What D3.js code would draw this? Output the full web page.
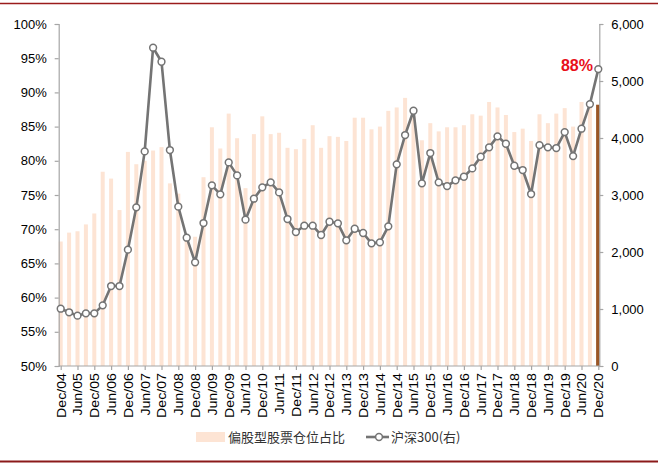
<!DOCTYPE html>
<html>
<head>
<meta charset="utf-8">
<script src="https://cdn.jsdelivr.net/npm/d3@7/dist/d3.min.js"></script>
<style>
  html, body { margin: 0; padding: 0; background: #fff; }
  svg { display: block; font-family: "Liberation Sans", Arial, sans-serif; }
</style>
</head>
<body>
<svg id="chart" width="658" height="464"></svg>
<script>
// ---------------- data ----------------
const quarters = [
  "Dec/04",
  "Mar/05","Jun/05","Sep/05","Dec/05",
  "Mar/06","Jun/06","Sep/06","Dec/06",
  "Mar/07","Jun/07","Sep/07","Dec/07",
  "Mar/08","Jun/08","Sep/08","Dec/08",
  "Mar/09","Jun/09","Sep/09","Dec/09",
  "Mar/10","Jun/10","Sep/10","Dec/10",
  "Mar/11","Jun/11","Sep/11","Dec/11",
  "Mar/12","Jun/12","Sep/12","Dec/12",
  "Mar/13","Jun/13","Sep/13","Dec/13",
  "Mar/14","Jun/14","Sep/14","Dec/14",
  "Mar/15","Jun/15","Sep/15","Dec/15",
  "Mar/16","Jun/16","Sep/16","Dec/16",
  "Mar/17","Jun/17","Sep/17","Dec/17",
  "Mar/18","Jun/18","Sep/18","Dec/18",
  "Mar/19","Jun/19","Sep/19","Dec/19",
  "Mar/20","Jun/20","Sep/20","Dec/20"
];
// 偏股型股票仓位占比 (%)
const equityPosition = [
  68.2,
  69.5, 69.7, 70.7, 72.3,
  78.4, 77.4, 72.8, 81.3,
  79.5, 80.0, 81.5, 82.0,
  76.7, 75.2, 69.0, 68.9,
  77.6, 84.9, 81.8, 86.9,
  83.3, 76.0, 83.9, 86.5,
  83.9, 84.1, 81.9, 81.7,
  83.2, 85.2, 81.9, 83.6,
  83.5, 82.9, 86.3, 86.3,
  84.6, 85.0, 87.3, 87.8,
  89.2, 86.5, 83.0, 85.5,
  84.3, 84.9, 84.9, 85.2,
  86.8, 86.6, 88.6, 87.8,
  86.7, 84.2, 84.7, 82.9,
  86.8, 85.5, 86.9, 87.7,
  85.0, 88.6, 88.5, 88.2
];
// 沪深300 (右)
const csi300 = [
  1005,
  942, 883, 924, 924,
  1064, 1403, 1403, 2041,
  2783, 3765, 5584, 5338,
  3789, 2795, 2251, 1818,
  2508, 3169, 3011, 3572,
  3344, 2567, 2935, 3134,
  3222, 3046, 2578, 2350,
  2461, 2461, 2298, 2531,
  2503, 2205, 2408, 2333,
  2152, 2169, 2450, 3538,
  4052, 4478, 3205, 3736,
  3222, 3157, 3257, 3320,
  3467, 3671, 3836, 4029,
  3899, 3513, 3438, 3017,
  3876, 3836, 3824, 4104,
  3683, 4163, 4595, 5209
];
const tickLabels = [
  "Dec/04","Jun/05","Dec/05","Jun/06","Dec/06","Jun/07","Dec/07","Jun/08","Dec/08",
  "Jun/09","Dec/09","Jun/10","Dec/10","Jun/11","Dec/11","Jun/12","Dec/12","Jun/13",
  "Dec/13","Jun/14","Dec/14","Jun/15","Dec/15","Jun/16","Dec/16","Jun/17","Dec/17",
  "Jun/18","Dec/18","Jun/19","Dec/19","Jun/20","Dec/20"
];
const leftTicks = [50, 55, 60, 65, 70, 75, 80, 85, 90, 95, 100];
const rightTicks = [0, 1000, 2000, 3000, 4000, 5000, 6000];
const seriesNames = ["偏股型股票仓位占比", "沪深300(右)"];
const highlightLabel = "88%";

// ---------------- layout ----------------
const svg = d3.select("#chart");
const plotTop = 24, plotBottom = 366, axisLeft = 58.7, axisRight = 599.3;
const x = d3.scalePoint().domain(quarters).range([60.7, 598.3]);
const yL = d3.scaleLinear().domain([50, 100]).range([plotBottom, plotTop]);
const yR = d3.scaleLinear().domain([0, 6000]).range([plotBottom, plotTop]);
const axisColor = "#a6a6a6";
const barW = 4;

svg.append("rect").attr("width", 658).attr("height", 464).attr("fill", "#fff");

// decorative frame lines
svg.append("line").attr("x1", 0).attr("x2", 658).attr("y1", 3.5).attr("y2", 3.5)
  .attr("stroke", "#9b1c1c").attr("stroke-width", 1.3);
svg.append("line").attr("x1", 0).attr("x2", 658).attr("y1", 461.5).attr("y2", 461.5)
  .attr("stroke", "#8b1a1a").attr("stroke-width", 2);

// bars
const lastIdx = quarters.length - 1;
svg.append("g").selectAll("rect")
  .data(quarters.map((q, i) => ({ q, v: equityPosition[i], i })))
  .join("rect")
  .attr("x", d => x(d.q) - (d.i === lastIdx ? 2.2 : barW / 2))
  .attr("width", d => d.i === lastIdx ? 3.4 : barW)
  .attr("y", d => yL(d.v))
  .attr("height", d => plotBottom - yL(d.v))
  .attr("fill", d => d.i === lastIdx ? "#9a5626" : "#fde4d4");

// left axis
const gL = svg.append("g").attr("transform", `translate(${axisLeft},0)`)
  .call(d3.axisLeft(yL).tickValues(leftTicks).tickSize(4).tickPadding(8)
    .tickFormat(d => d + "%"));
// right axis
const gR = svg.append("g").attr("transform", `translate(${axisRight},0)`)
  .call(d3.axisRight(yR).tickValues(rightTicks).tickSize(4).tickPadding(8)
    .tickFormat(d3.format(",")));
// bottom axis
const gB = svg.append("g").attr("transform", `translate(0,${plotBottom})`)
  .call(d3.axisBottom(x).tickValues(tickLabels).tickSize(4).tickSizeOuter(0));
gB.select(".domain").attr("d", `M${axisLeft},0H${axisRight}`);

[gL, gR, gB].forEach(g => {
  g.select(".domain").attr("stroke", axisColor).attr("stroke-width", 1.2);
  g.selectAll(".tick line").attr("stroke", axisColor).attr("stroke-width", 1.2);
  g.selectAll("text").attr("fill", "#000").style("font-size", "13px")
    .style("font-family", '"Liberation Sans", Arial, sans-serif');
});
gB.selectAll(".tick text")
  .attr("transform", "rotate(-90) scale(1.09,0.95)")
  .attr("text-anchor", "end")
  .attr("x", -6.5)
  .attr("y", 0)
  .attr("dy", "0.35em");

// line
const pts = quarters.map((q, i) => [x(q), yR(csi300[i])]);
svg.append("path")
  .attr("d", d3.line()(pts))
  .attr("fill", "none").attr("stroke", "#747474").attr("stroke-width", 2.6)
  .attr("stroke-linejoin", "round");
svg.append("g").selectAll("circle").data(pts).join("circle")
  .attr("cx", d => d[0]).attr("cy", d => d[1]).attr("r", 3.4)
  .attr("fill", "#fff").attr("stroke", "#747474").attr("stroke-width", 1.5);

// highlight label
svg.append("text")
  .attr("x", 593).attr("y", 70.5).attr("text-anchor", "end")
  .style("font-size", "16px").style("font-weight", "bold")
  .attr("fill", "#e8101a").text(highlightLabel);

// legend
const lg = svg.append("g");
lg.append("rect").attr("x", 196).attr("y", 432).attr("width", 29).attr("height", 10)
  .attr("fill", "#fde4d4");
lg.append("text").attr("x", 228).attr("y", 437).attr("dy", "0.35em")
  .style("font-size", "13px").style("font-family", '"Noto Sans CJK SC", sans-serif')
  .attr("fill", "#333").text(seriesNames[0]);
lg.append("line").attr("x1", 366).attr("x2", 389).attr("y1", 437).attr("y2", 437)
  .attr("stroke", "#747474").attr("stroke-width", 2.6);
lg.append("circle").attr("cx", 379).attr("cy", 437).attr("r", 3.4)
  .attr("fill", "#fff").attr("stroke", "#747474").attr("stroke-width", 1.5);
lg.append("text").attr("x", 391).attr("y", 437).attr("dy", "0.35em")
  .style("font-size", "13px").style("font-family", '"Noto Sans CJK SC", "Liberation Sans", sans-serif')
  .attr("fill", "#333").text(seriesNames[1]);
</script>
</body>
</html>
